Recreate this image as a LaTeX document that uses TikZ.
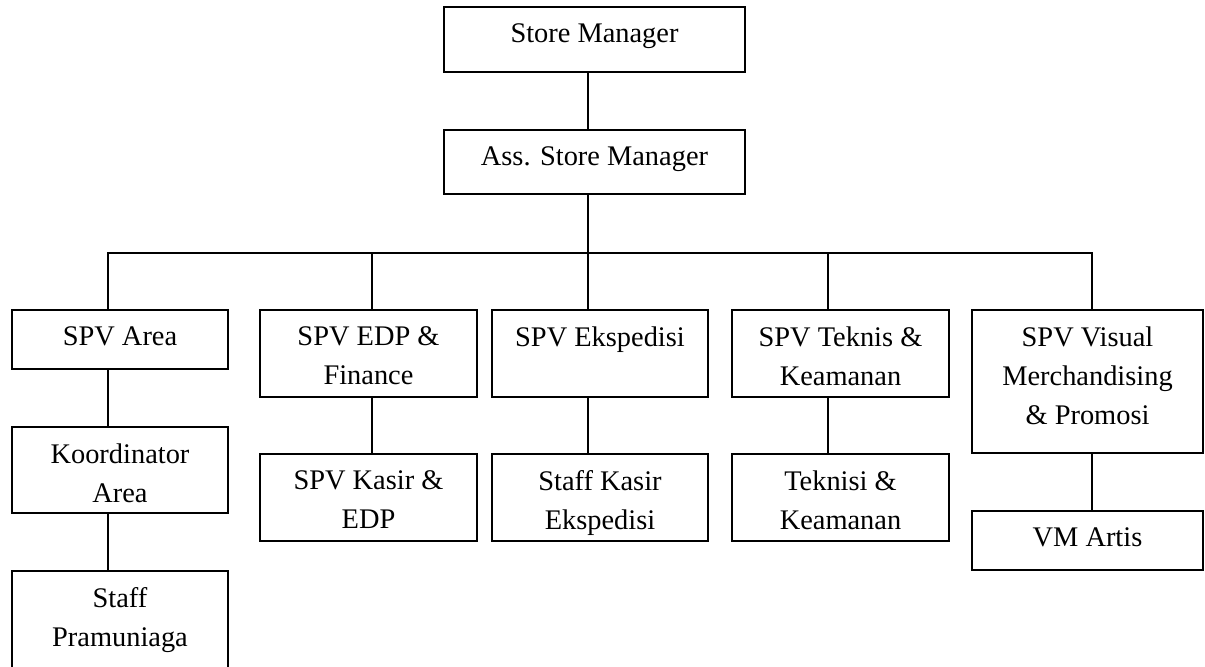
\documentclass[tikz,border=0pt]{standalone}
\usepackage{fontspec}
\setmainfont{Liberation Serif}
\begin{document}
\begin{tikzpicture}[x=0.5pt,y=-0.5pt,
  box/.style={draw=black,line width=0.6pt,rectangle,inner sep=0pt},
  txt/.style={anchor=north,inner sep=0pt,align=center,font=\fontsize{14.2}{19.5}\selectfont,yshift=-8.5pt},
  con/.style={draw=black,line width=0.6pt}]
\useasboundingbox (0,0) rectangle (1205,666);
\clip (0,0) rectangle (1205,666);
% boxes
\node[box,minimum width=150.5pt,minimum height=32.5pt] (sm) at (594.5,39.5) {};
\node[box,minimum width=150.5pt,minimum height=32pt] (asm) at (594.5,162) {};
\node[box,minimum width=108pt,minimum height=29.5pt] (spva) at (120,339.5) {};
\node[box,minimum width=108pt,minimum height=43pt] (koord) at (120,470) {};
\node[box,minimum width=108pt,minimum height=64.5pt] (staff) at (120,635.5) {};
\node[box,minimum width=108.5pt,minimum height=43.5pt] (edp) at (368.5,353.5) {};
\node[box,minimum width=108.5pt,minimum height=43.5pt] (kasir) at (368.5,497.5) {};
\node[box,minimum width=108pt,minimum height=43.5pt] (eksp) at (600,353.5) {};
\node[box,minimum width=108pt,minimum height=43.5pt] (staffk) at (600,497.5) {};
\node[box,minimum width=108.5pt,minimum height=43.5pt] (tek) at (840.5,353.5) {};
\node[box,minimum width=108.5pt,minimum height=43.5pt] (teknisi) at (840.5,497.5) {};
\node[box,minimum width=115.5pt,minimum height=71.5pt] (vis) at (1087.5,381.5) {};
\node[box,minimum width=115.5pt,minimum height=29.5pt] (vm) at (1087.5,540.5) {};
% texts
\node[txt] (tsm) at (sm.north) {Store Manager};
\node[txt] (tasm) at (asm.north) {Ass. Store Manager};
\node[txt] (tspva) at (spva.north) {SPV Area};
\node[txt] (tkoord) at (koord.north) {Koordinator\\Area};
\node[txt] (tstaff) at (staff.north) {Staff\\Pramuniaga};
\node[txt] (tedp) at (edp.north) {SPV EDP \&\\Finance};
\node[txt] (tkasir) at (kasir.north) {SPV Kasir \&\\EDP};
\node[txt] (teksp) at (eksp.north) {SPV Ekspedisi};
\node[txt] (tstaffk) at (staffk.north) {Staff Kasir\\Ekspedisi};
\node[txt] (ttek) at (tek.north) {SPV Teknis \&\\Keamanan};
\node[txt] (tteknisi) at (teknisi.north) {Teknisi \&\\Keamanan};
\node[txt] (tvis) at (vis.north) {SPV Visual\\Merchandising\\\& Promosi};
\node[txt] (tvm) at (vm.north) {VM Artis};
% bus coordinates
\coordinate (bm) at (588,253);
\coordinate (b1) at (108,253);
\coordinate (b2) at (372,253);
\coordinate (b4) at (828,253);
\coordinate (b5) at (1092,253);
% connectors
\draw[con] (sm.south -| bm) -- (asm.north -| bm);
\draw[con] (asm.south -| bm) -- (bm);
\draw[con] (b1 |- spva.north) -- (b1) -- (b5) -- (b5 |- vis.north);
\draw[con] (b2) -- (b2 |- edp.north);
\draw[con] (bm) -- (bm |- eksp.north);
\draw[con] (b4) -- (b4 |- tek.north);
\draw[con] (spva.south -| b1) -- (koord.north -| b1);
\draw[con] (koord.south -| b1) -- (staff.north -| b1);
\draw[con] (edp.south -| b2) -- (kasir.north -| b2);
\draw[con] (eksp.south -| bm) -- (staffk.north -| bm);
\draw[con] (tek.south -| b4) -- (teknisi.north -| b4);
\draw[con] (vis.south -| b5) -- (vm.north -| b5);
\end{tikzpicture}
\end{document}
